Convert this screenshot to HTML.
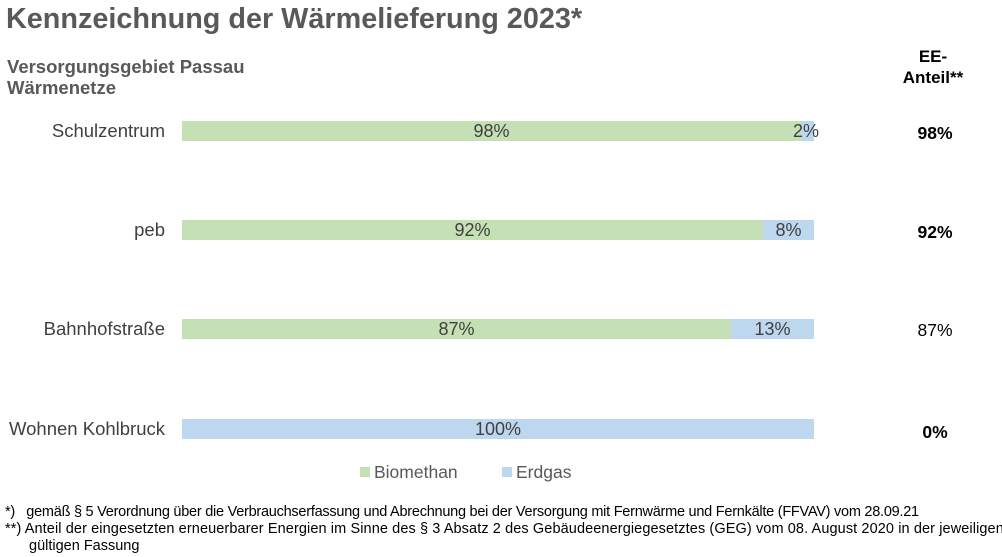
<!DOCTYPE html>
<html><head><meta charset="utf-8"><style>
body{margin:0;width:1002px;height:557px;background:#fff;font-family:"Liberation Sans",sans-serif;position:relative;overflow:hidden}
.a{position:absolute;white-space:nowrap}
.bar{position:absolute;height:20px;font-size:18px;color:#404040;text-align:center;line-height:20px}
.g{background:#c5e0b4}.b{background:#bdd7ee}
.lab{position:absolute;right:837px;font-size:18.5px;color:#404040;line-height:20px;white-space:nowrap}
.ee{position:absolute;left:900px;width:70px;text-align:center;font-size:17.5px;color:#000;line-height:20px}
.fn{font-size:14.5px;color:#000}
</style></head><body>
<div class="a" style="left:6px;top:3px;font-size:28.8px;font-weight:bold;color:#595959">Kennzeichnung der Wärmelieferung 2023*</div>
<div class="a" style="left:7px;top:56px;font-size:18.5px;font-weight:bold;color:#595959;line-height:21px">Versorgungsgebiet Passau<br>Wärmenetze</div>
<div class="a" style="left:893px;top:46px;width:80px;text-align:center;font-size:17px;font-weight:bold;color:#000;line-height:21px">EE-<br>Anteil**</div>

<div class="lab" style="top:121px">Schulzentrum</div>
<div class="bar g" style="left:182px;top:121px;width:619px">98%</div>
<div class="bar b" style="left:801px;top:121px;width:13px"></div>
<div class="a" style="left:793px;top:121px;font-size:18px;color:#404040;line-height:20px">2%</div>
<div class="ee" style="top:123px;font-weight:bold">98%</div>

<div class="lab" style="top:220px">peb</div>
<div class="bar g" style="left:182px;top:220px;width:581px">92%</div>
<div class="bar b" style="left:763px;top:220px;width:51px">8%</div>
<div class="ee" style="top:222px;font-weight:bold">92%</div>

<div class="lab" style="top:319px">Bahnhofstraße</div>
<div class="bar g" style="left:182px;top:319px;width:549px">87%</div>
<div class="bar b" style="left:731px;top:319px;width:83px">13%</div>
<div class="ee" style="top:320px">87%</div>

<div class="lab" style="top:419px">Wohnen Kohlbruck</div>
<div class="bar b" style="left:182px;top:419px;width:632px">100%</div>
<div class="ee" style="top:422px;font-weight:bold">0%</div>

<div class="a" style="left:360px;top:467px;width:10px;height:10px;background:#c5e0b4"></div>
<div class="a" style="left:374px;top:462px;font-size:17.5px;color:#595959">Biomethan</div>
<div class="a" style="left:502px;top:467px;width:10px;height:10px;background:#bdd7ee"></div>
<div class="a" style="left:516px;top:462px;font-size:17.5px;color:#595959">Erdgas</div>

<div class="a fn" style="left:5px;top:504px;letter-spacing:-0.25px">*)&nbsp;&nbsp; gemäß § 5 Verordnung über die Verbrauchserfassung und Abrechnung bei der Versorgung mit Fernwärme und Fernkälte (FFVAV) vom 28.09.21</div>
<div class="a fn" style="left:5px;top:521px;letter-spacing:0.1px">**) Anteil der eingesetzten erneuerbarer Energien im Sinne des § 3 Absatz 2 des Gebäudeenergiegesetztes (GEG) vom 08. August 2020 in der jeweiligen</div>
<div class="a fn" style="left:29px;top:538px">gültigen Fassung</div>
</body></html>
